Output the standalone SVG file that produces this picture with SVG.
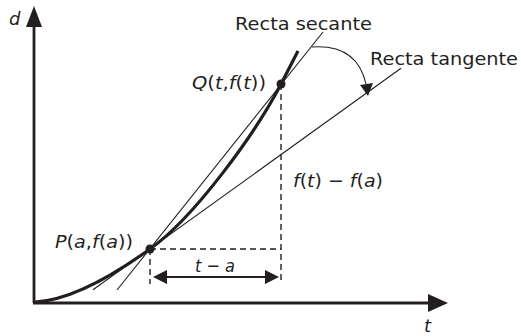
<svg xmlns="http://www.w3.org/2000/svg" width="521" height="336" viewBox="0 0 521 336">
<style>
.lbl{font-family:"DejaVu Sans","Liberation Sans",Arial,sans-serif;font-size:18px;fill:#231f20}
.it{font-style:italic}
.thin{stroke:#231f20;stroke-width:1.1;fill:none}
.dash{stroke:#231f20;stroke-width:1.4;fill:none;stroke-dasharray:6,4}
.ah{fill:#231f20;stroke:none}
</style>
<rect width="521" height="336" fill="#fff"/>
<g id="axes">
<line x1="34" y1="303" x2="34" y2="24" stroke="#231f20" stroke-width="2.8"/>
<polygon class="ah" points="34,6 26,27 42,27"/>
<line x1="33" y1="303" x2="430" y2="303" stroke="#231f20" stroke-width="2.8"/>
<polygon class="ah" points="448,303 428,294 428,312"/>
<text class="lbl it" x="9" y="25">d</text>
<text class="lbl it" x="424" y="332">t</text>
</g>
<g id="curve">
<path d="M35,302 C75,300 125,267 150,249 C195,216.8 256,132.5 281,84 L298,51" stroke="#231f20" stroke-width="3.2" fill="none"/>
</g>
<g id="secant">
<line class="thin" x1="117" y1="290" x2="323" y2="32"/>
<text class="lbl" x="235" y="30" textLength="137" lengthAdjust="spacingAndGlyphs">Recta secante</text>
</g>
<g id="tangent">
<line class="thin" x1="93" y1="289.8" x2="401" y2="68.3"/>
<text class="lbl" x="370" y="65" textLength="148" lengthAdjust="spacingAndGlyphs">Recta tangente</text>
</g>
<g id="rotation-arrow">
<path class="thin" d="M312,47 Q357,44 366,84"/>
<polygon class="ah" points="368,96 360,85 373,83"/>
</g>
<g id="connectors">
<line class="dash" x1="150" y1="249" x2="281" y2="249"/>
<line class="dash" x1="281" y1="84" x2="281" y2="281"/>
<line class="dash" x1="150" y1="249" x2="150" y2="284"/>
<line x1="165" y1="277" x2="267" y2="277" stroke="#231f20" stroke-width="1.8"/>
<polygon class="ah" points="153,277 167,270 167,284"/>
<polygon class="ah" points="279,277 265,270 265,284"/>
<text class="lbl it" x="195" y="272" textLength="40" lengthAdjust="spacingAndGlyphs">t − a</text>
<text class="lbl" x="293" y="187" textLength="90" lengthAdjust="spacingAndGlyphs"><tspan class="it">f</tspan>(<tspan class="it">t</tspan>) − <tspan class="it">f</tspan>(<tspan class="it">a</tspan>)</text>
</g>
<g id="P">
<circle cx="150" cy="249" r="4.5" fill="#231f20"/>
<text class="lbl" x="55" y="248" textLength="78" lengthAdjust="spacingAndGlyphs"><tspan class="it">P</tspan>(<tspan class="it">a</tspan>,<tspan class="it">f</tspan>(<tspan class="it">a</tspan>))</text>
</g>
<g id="Q">
<circle cx="281" cy="84" r="4.5" fill="#231f20"/>
<text class="lbl" x="192" y="89" textLength="74" lengthAdjust="spacingAndGlyphs"><tspan class="it">Q</tspan>(<tspan class="it">t</tspan>,<tspan class="it">f</tspan>(<tspan class="it">t</tspan>))</text>
</g>
</svg>
